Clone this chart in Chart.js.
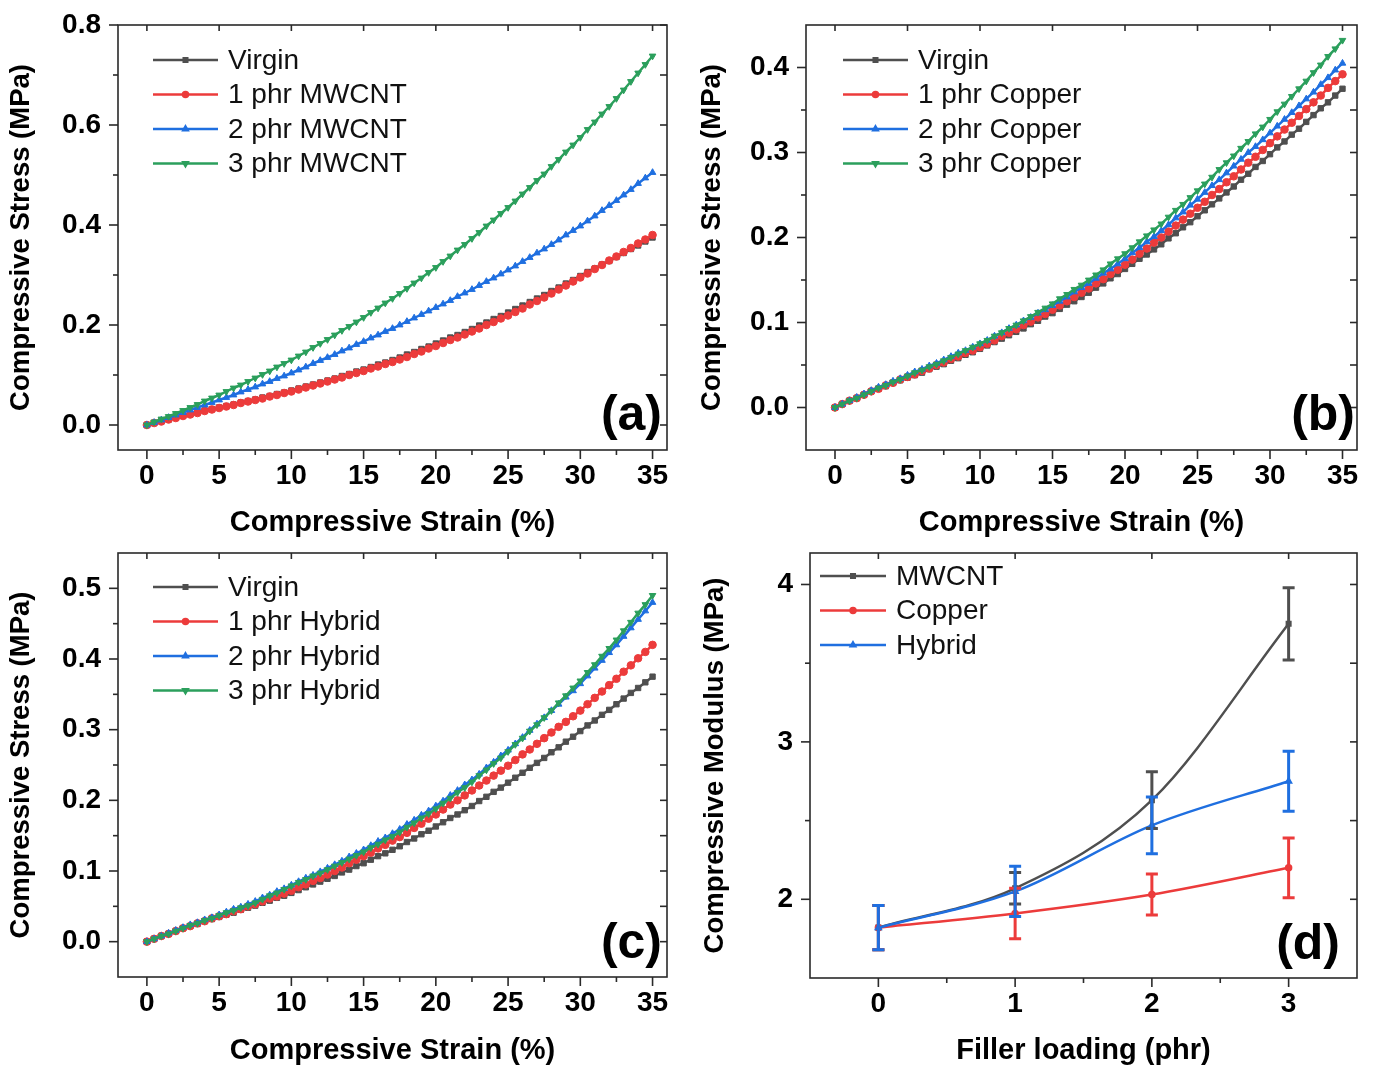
<!DOCTYPE html>
<html>
<head>
<meta charset="utf-8">
<script src="https://cdn.jsdelivr.net/npm/chart.js@4.4.1/dist/chart.umd.min.js"></script>
<style>
  html, body { margin: 0; padding: 0; background: #fff; }
  #wrap { position: relative; width: 1374px; height: 1068px; overflow: hidden; }
  #wrap canvas { position: absolute; }
</style>
</head>
<body>
<div id="wrap">
  <canvas id="panelA" width="687" height="540" style="left:0;top:0"></canvas>
  <canvas id="panelB" width="687" height="540" style="left:687px;top:0"></canvas>
  <canvas id="panelC" width="687" height="540" style="left:0;top:528px"></canvas>
  <canvas id="panelD" width="687" height="540" style="left:687px;top:528px"></canvas>
</div>

<script>
// ---- data ----
const strain = [0,0.5,1,1.5,2,2.5,3,3.5,4,4.5,5,5.5,6,6.5,7,7.5,8,8.5,9,9.5,10,10.5,11,11.5,12,12.5,13,13.5,14,14.5,15,15.5,16,16.5,17,17.5,18,18.5,19,19.5,20,20.5,21,21.5,22,22.5,23,23.5,24,24.5,25,25.5,26,26.5,27,27.5,28,28.5,29,29.5,30,30.5,31,31.5,32,32.5,33,33.5,34,34.5,35];

const virgin = [0,.004,.008,.011,.015,.019,.022,.025,.029,.032,.035,.038,.041,.045,.048,.051,.055,.058,.062,.065,.069,.073,.077,.081,.085,.089,.093,.098,.102,.107,.111,.116,.121,.125,.130,.135,.141,.146,.152,.157,.163,.169,.175,.180,.186,.192,.199,.205,.212,.218,.225,.232,.239,.246,.253,.260,.268,.275,.283,.290,.298,.306,.313,.321,.328,.336,.344,.352,.359,.367,.375];

const mwcnt1 = [0,.004,.007,.011,.014,.018,.021,.024,.028,.031,.034,.037,.040,.044,.047,.050,.053,.057,.060,.064,.067,.071,.075,.079,.083,.087,.091,.095,.100,.104,.108,.113,.117,.122,.126,.131,.136,.142,.147,.153,.158,.164,.170,.175,.181,.187,.193,.200,.206,.213,.219,.226,.233,.241,.248,.255,.263,.271,.279,.287,.295,.303,.312,.320,.329,.337,.346,.354,.363,.371,.380];
const mwcnt2 = [0,.005,.010,.015,.020,.025,.030,.035,.040,.045,.050,.055,.060,.066,.071,.076,.082,.087,.093,.098,.104,.110,.116,.123,.129,.135,.141,.148,.154,.161,.167,.174,.180,.187,.193,.200,.207,.214,.221,.228,.235,.242,.249,.257,.264,.271,.279,.287,.294,.302,.310,.318,.327,.335,.344,.352,.361,.370,.380,.389,.398,.408,.418,.429,.439,.449,.460,.471,.483,.494,.505];
const mwcnt3 = [0,.006,.012,.017,.023,.029,.035,.041,.048,.054,.060,.067,.074,.080,.087,.094,.101,.108,.116,.123,.130,.138,.146,.155,.163,.171,.180,.189,.197,.206,.215,.225,.234,.244,.253,.263,.273,.284,.294,.305,.315,.327,.338,.350,.361,.373,.385,.398,.410,.423,.435,.448,.462,.475,.489,.502,.517,.531,.546,.560,.575,.591,.606,.622,.637,.653,.670,.687,.704,.721,.738];

const copper1 = [0,.004,.008,.011,.015,.019,.022,.026,.029,.033,.036,.039,.043,.046,.050,.053,.057,.060,.064,.067,.071,.075,.079,.084,.088,.092,.097,.101,.106,.110,.115,.120,.125,.130,.135,.140,.146,.151,.157,.162,.168,.174,.181,.187,.194,.200,.207,.214,.221,.228,.235,.242,.250,.257,.265,.272,.280,.288,.295,.303,.311,.319,.327,.335,.343,.351,.359,.367,.376,.384,.392];
const copper2 = [0,.004,.008,.012,.016,.020,.024,.027,.031,.034,.038,.042,.045,.049,.052,.056,.060,.064,.067,.071,.075,.079,.084,.088,.093,.097,.102,.106,.111,.115,.120,.125,.130,.136,.141,.146,.152,.158,.163,.169,.175,.182,.188,.195,.201,.208,.215,.223,.230,.238,.245,.253,.261,.268,.276,.284,.292,.300,.307,.315,.323,.331,.339,.347,.355,.363,.371,.380,.388,.397,.405];
const copper3 = [0,.004,.008,.011,.015,.019,.023,.026,.030,.033,.037,.041,.044,.048,.051,.055,.059,.063,.067,.071,.075,.079,.084,.088,.093,.097,.102,.107,.112,.117,.122,.128,.133,.139,.144,.150,.156,.162,.169,.175,.181,.188,.195,.202,.209,.216,.224,.232,.239,.247,.255,.263,.271,.280,.288,.296,.305,.313,.322,.330,.339,.348,.357,.366,.375,.384,.394,.403,.413,.422,.432];

const hybrid1 = [0,.004,.008,.011,.015,.019,.022,.026,.029,.033,.036,.039,.043,.046,.050,.053,.057,.061,.064,.068,.072,.077,.081,.086,.090,.095,.100,.105,.111,.116,.121,.126,.132,.137,.143,.148,.154,.161,.167,.174,.180,.187,.194,.200,.207,.214,.221,.228,.235,.242,.249,.257,.265,.272,.280,.288,.296,.304,.311,.319,.327,.336,.345,.354,.363,.372,.382,.391,.401,.410,.420];
const hybrid2 = [0,.004,.008,.012,.016,.020,.024,.027,.031,.034,.038,.042,.046,.049,.053,.057,.062,.066,.071,.075,.080,.085,.090,.094,.099,.104,.109,.114,.120,.125,.130,.136,.142,.147,.153,.159,.166,.172,.179,.185,.192,.199,.207,.214,.222,.229,.237,.246,.254,.263,.271,.280,.289,.299,.308,.317,.327,.336,.346,.355,.365,.376,.387,.398,.409,.420,.432,.444,.456,.468,.480];
const hybrid3 = [0,.004,.008,.011,.015,.019,.023,.026,.030,.033,.037,.041,.044,.048,.051,.055,.060,.065,.069,.074,.079,.084,.088,.093,.097,.102,.107,.112,.117,.122,.127,.133,.138,.144,.149,.155,.162,.168,.175,.181,.188,.196,.203,.211,.218,.226,.235,.243,.252,.260,.269,.279,.288,.298,.307,.317,.327,.338,.348,.359,.369,.381,.392,.404,.415,.427,.440,.452,.465,.477,.490];

const loading = [0, 1, 2, 3];
const modMwcnt = [1.82, 2.07, 2.63, 3.75];
const errMwcnt = [0.14, 0.10, 0.18, 0.23];
const modCopper = [1.82, 1.91, 2.03, 2.20];
const errCopper = [0.14, 0.16, 0.13, 0.19];
const modHybrid = [1.82, 2.05, 2.47, 2.75];
const errHybrid = [0.14, 0.16, 0.18, 0.19];

// ticks
const strainMajor = [0, 5, 10, 15, 20, 25, 30, 35];
const strainMinor = [2.5, 7.5, 12.5, 17.5, 22.5, 27.5, 32.5];
const stressMajorA = [0, 0.2, 0.4, 0.6, 0.8];
const stressMinorA = [0.1, 0.3, 0.5, 0.7];
const stressMajorB = [0, 0.1, 0.2, 0.3, 0.4];
const stressMinorB = [0.05, 0.15, 0.25, 0.35];
const stressMajorC = [0, 0.1, 0.2, 0.3, 0.4, 0.5];
const stressMinorC = [0.05, 0.15, 0.25, 0.35, 0.45];
const loadingMajor = [0, 1, 2, 3];
const loadingMinor = [0.5, 1.5, 2.5];
const modulusMajor = [2, 3, 4];
const modulusMinor = [2.5, 3.5];

// ---- styling ----
const FONT = "'Liberation Sans', Arial, sans-serif";
const COLORS = ['#4f4f4f', '#ec3b3b', '#1f6fe0', '#2b9f5c'];
const MARKERS = [['rect', 0], ['circle', 0], ['triangle', 0], ['triangle', 180]];

function pts(xs, ys) { return xs.map((x, i) => ({ x: x, y: ys[i] })); }

function tickList(major, minor) {
  return major.map(v => ({ value: v, major: true }))
    .concat(minor.map(v => ({ value: v, major: false })))
    .sort((a, b) => a.value - b.value);
}

function stressSets(labels, series) {
  return series.map((s, i) => ({
    label: labels[i],
    data: pts(strain, s),
    borderColor: COLORS[i],
    backgroundColor: COLORS[i],
    borderWidth: 2.5,
    pointStyle: MARKERS[i][0],
    pointRotation: MARKERS[i][1],
    pointRadius: 3.8,
    pointBorderWidth: 1,
    tension: 0,
    order: 4 - i
  }));
}

function axisOpts(c) {
  return {
    type: 'linear', position: c.pos, min: c.min, max: c.max, bounds: 'data',
    afterBuildTicks: s => { s.ticks = tickList(c.major, c.minor); },
    afterFit: s => {
      if (c.pos === 'bottom') s.height = c.size; else s.width = c.size;
      // keep the plot box where layout.padding puts it
      s.paddingTop = 0; s.paddingBottom = 0; s.paddingLeft = 0; s.paddingRight = 0;
    },
    grid: { display: false, drawTicks: false },
    border: { display: false },
    ticks: {
      autoSkip: false, maxRotation: 0, padding: c.pad, color: '#000',
      font: { family: FONT, size: 28, weight: 'bold' },
      callback: (v, i, t) => t[i].major ? c.fmt(v) : ''
    },
    title: { display: true, text: c.title, color: '#000', padding: 0,
      font: { family: FONT, size: c.pos === 'bottom' ? 29 : 27.5, weight: 'bold' } }
  };
}

// box + tick marks (out on left/bottom, in on right/top)
const frame = {
  id: 'frame',
  afterDraw(chart) {
    const { ctx, chartArea: a, scales: { x, y } } = chart;
    ctx.save();
    ctx.strokeStyle = '#2a2a2a';
    ctx.lineWidth = 1.6;
    const seg = (x1, y1, x2, y2) => { ctx.beginPath(); ctx.moveTo(x1, y1); ctx.lineTo(x2, y2); ctx.stroke(); };
    x.ticks.forEach(t => {
      const px = x.getPixelForValue(t.value);
      seg(px, a.bottom, px, a.bottom + (t.major ? 9 : 5));
      if (t.major) seg(px, a.top, px, a.top + 6);
    });
    y.ticks.forEach(t => {
      const py = y.getPixelForValue(t.value);
      seg(a.left - (t.major ? 9 : 5), py, a.left, py);
      seg(a.right - 7, py, a.right, py);
    });
    ctx.strokeRect(a.left, a.top, a.right - a.left, a.bottom - a.top);
    ctx.restore();
  }
};

const innerLegend = {
  id: 'innerLegend',
  afterDraw(chart, args, o) {
    const { ctx, chartArea: a } = chart;
    ctx.save();
    chart.data.datasets.forEach((ds, i) => {
      const y = a.top + o.top + i * o.gap;
      const x0 = a.left + o.left;
      ctx.strokeStyle = ds.borderColor;
      ctx.lineWidth = 2.5;
      ctx.beginPath(); ctx.moveTo(x0, y); ctx.lineTo(x0 + o.len, y); ctx.stroke();
      ctx.fillStyle = ds.borderColor;
      Chart.helpers.drawPoint(ctx, { pointStyle: ds.pointStyle, rotation: ds.pointRotation || 0, radius: 2.5, borderWidth: 1 }, x0 + o.len / 2, y);
      ctx.fillStyle = '#111';
      ctx.font = '28px ' + FONT;
      ctx.textAlign = 'left';
      ctx.textBaseline = 'middle';
      ctx.fillText(ds.label, x0 + o.len + 10, y + 1);
    });
    ctx.restore();
  }
};

const panelTag = {
  id: 'panelTag',
  afterDraw(chart, args, o) {
    const { ctx, chartArea: a } = chart;
    ctx.save();
    ctx.fillStyle = '#000';
    ctx.font = 'bold 50px ' + FONT;
    ctx.textAlign = 'right';
    ctx.textBaseline = 'alphabetic';
    ctx.fillText(o.text, a.right - o.dx, a.bottom - o.dy);
    ctx.restore();
  }
};

const errorBars = {
  id: 'errorBars',
  afterDatasetsDraw(chart) {
    const { ctx, scales: { x, y } } = chart;
    chart.data.datasets.forEach(ds => {
      if (!ds.errors) return;
      ctx.save();
      ctx.strokeStyle = ds.borderColor;
      ctx.lineWidth = 3;
      ds.data.forEach((p, j) => {
        const px = x.getPixelForValue(p.x);
        const hi = y.getPixelForValue(p.y + ds.errors[j]);
        const lo = y.getPixelForValue(p.y - ds.errors[j]);
        ctx.beginPath();
        ctx.moveTo(px, hi); ctx.lineTo(px, lo);
        ctx.moveTo(px - 6, hi); ctx.lineTo(px + 6, hi);
        ctx.moveTo(px - 6, lo); ctx.lineTo(px + 6, lo);
        ctx.stroke();
      });
      ctx.restore();
    });
  }
};

function makePanel(id, o) {
  return new Chart(document.getElementById(id), {
    type: 'line',
    data: { datasets: o.datasets },
    options: {
      responsive: false, animation: false, devicePixelRatio: 1,
      layout: { padding: o.pad },
      plugins: {
        legend: { display: false }, tooltip: { enabled: false },
        innerLegend: o.legend, panelTag: o.tag
      },
      scales: { x: o.x, y: o.y }
    },
    plugins: [frame, errorBars, innerLegend, panelTag]
  });
}

const fmt1 = v => v.toFixed(1);
const fmt0 = v => String(v);
const strainAxis = (size) => axisOpts({ pos: 'bottom', min: -2, max: 36, major: strainMajor, minor: strainMinor,
  size: size, pad: 9, fmt: fmt0, title: 'Compressive Strain (%)' });
const stressAxis = (min, max, major, minor, size) => axisOpts({ pos: 'left', min: min, max: max, major: major, minor: minor,
  size: size, pad: 17, fmt: fmt1, title: 'Compressive Stress (MPa)' });

makePanel('panelA', {
  datasets: stressSets(['Virgin', '1 phr MWCNT', '2 phr MWCNT', '3 phr MWCNT'], [virgin, mwcnt1, mwcnt2, mwcnt3]),
  pad: { left: 5, top: 25, right: 20, bottom: 0 },
  x: strainAxis(90),
  y: stressAxis(-0.05, 0.8, stressMajorA, stressMinorA, 113),
  legend: { left: 35, top: 35, gap: 34.5, len: 65 },
  tag: { text: '(a)', dx: 5, dy: 20 }
});

makePanel('panelB', {
  datasets: stressSets(['Virgin', '1 phr Copper', '2 phr Copper', '3 phr Copper'], [virgin, copper1, copper2, copper3]),
  pad: { left: 9, top: 25, right: 17, bottom: 0 },
  x: strainAxis(90),
  y: stressAxis(-0.05, 0.45, stressMajorB, stressMinorB, 110),
  legend: { left: 37, top: 35, gap: 34.5, len: 65 },
  tag: { text: '(b)', dx: 2, dy: 20 }
});

makePanel('panelC', {
  datasets: stressSets(['Virgin', '1 phr Hybrid', '2 phr Hybrid', '3 phr Hybrid'], [virgin, hybrid1, hybrid2, hybrid3]),
  pad: { left: 5, top: 25, right: 20, bottom: 0 },
  x: strainAxis(91),
  y: stressAxis(-0.05, 0.55, stressMajorC, stressMinorC, 113),
  legend: { left: 35, top: 34, gap: 34.5, len: 65 },
  tag: { text: '(c)', dx: 5, dy: 19 }
});

const modSeries = [['MWCNT', modMwcnt, errMwcnt], ['Copper', modCopper, errCopper], ['Hybrid', modHybrid, errHybrid]];
makePanel('panelD', {
  datasets: modSeries.map((m, i) => ({
    label: m[0],
    data: pts(loading, m[1]),
    errors: m[2],
    borderColor: COLORS[i],
    backgroundColor: COLORS[i],
    borderWidth: 2.5,
    pointStyle: MARKERS[i][0],
    pointRotation: MARKERS[i][1],
    pointRadius: 2.5,
    cubicInterpolationMode: 'monotone',
    order: 3 - i
  })),
  pad: { left: 12, top: 25, right: 17, bottom: 0 },
  x: axisOpts({ pos: 'bottom', min: -0.5, max: 3.5, major: loadingMajor, minor: loadingMinor,
    size: 90, pad: 9, fmt: fmt0, title: 'Filler loading (phr)' }),
  y: axisOpts({ pos: 'left', min: 1.5, max: 4.2, major: modulusMajor, minor: modulusMinor,
    size: 111, pad: 17, fmt: fmt0, title: 'Compressive Modulus (MPa)' }),
  legend: { left: 10, top: 23, gap: 34.5, len: 66 },
  tag: { text: '(d)', dx: 17, dy: 19 }
});
</script>
</body>
</html>
